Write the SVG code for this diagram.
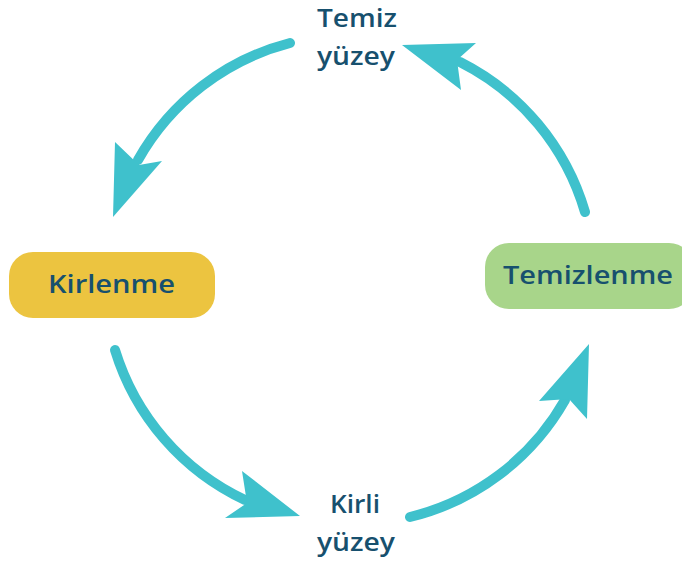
<svg xmlns="http://www.w3.org/2000/svg" width="682" height="567" viewBox="0 0 682 567">
<style>
.arc{fill:none;stroke:#3FC1CC;stroke-width:10;stroke-linecap:round}
.head{fill:#3FC1CC}
.t{font-family:"Open Sans","Liberation Sans",sans-serif;font-weight:600;font-size:26px;fill:#17506E}
</style>
<rect width="682" height="567" fill="#ffffff"/>
<g id="connectors">
<path class="arc" d="M290,43 A245,245 0 0 0 138,160"/>
<path class="head" d="M115,142 L113,217 L162,161 L139,165 Z"/>
<path class="arc" d="M585,212 A245,245 0 0 0 460,62"/>
<path class="head" d="M402,45 L476,43 L457,60 L461,90 Z"/>
<path class="arc" d="M115,350 A245,245 0 0 0 245,500"/>
<path class="head" d="M300,516 L242,471 L247,503 L225,518 Z"/>
<path class="arc" d="M410,517 A245,245 0 0 0 565,400"/>
<path class="head" d="M589,344 L539,401 L569,399 L587,419 Z"/>
</g>
<g id="kirlenme">
<rect x="9" y="252" width="206" height="66" rx="24" fill="#ECC440"/>
<text class="t" x="48" y="293" textLength="127" lengthAdjust="spacingAndGlyphs">Kirlenme</text>
</g>
<g id="temizlenme">
<rect x="485" y="243" width="208" height="66" rx="24" fill="#A8D58A"/>
<text class="t" x="503" y="284" textLength="170" lengthAdjust="spacingAndGlyphs">Temizlenme</text>
</g>
<g id="temiz-yuzey">
<text class="t" x="317" y="27" textLength="80" lengthAdjust="spacingAndGlyphs">Temiz</text>
<text class="t" x="317" y="65" textLength="78" lengthAdjust="spacingAndGlyphs">yüzey</text>
</g>
<g id="kirli-yuzey">
<text class="t" x="330" y="513" textLength="50" lengthAdjust="spacingAndGlyphs">Kirli</text>
<text class="t" x="317" y="551" textLength="78" lengthAdjust="spacingAndGlyphs">yüzey</text>
</g>
</svg>
